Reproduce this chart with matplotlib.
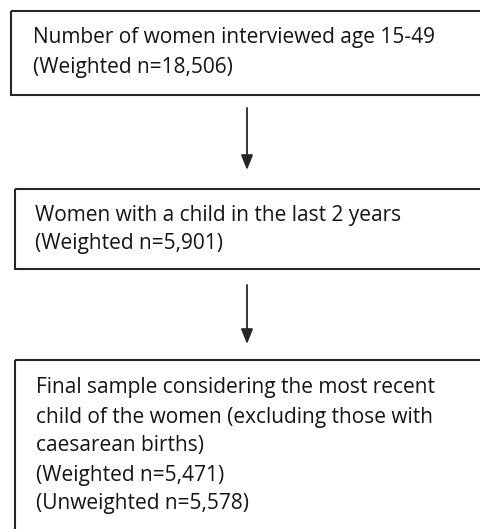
import matplotlib
matplotlib.use("Agg")
import matplotlib.pyplot as plt
from matplotlib.patches import Rectangle

# flowchart content, one list of lines per box
box_lines = [
    ["Number of women interviewed age 15-49",
     "(Weighted n=18,506)"],
    ["Women with a child in the last 2 years",
     "(Weighted n=5,901)"],
    ["Final sample considering the most recent",
     "child of the women (excluding those with",
     "caesarean births)",
     "(Weighted n=5,471)",
     "(Unweighted n=5,578)"],
]

# layout in pixel units, boxes run off the right edge
box_x0 = [11, 15, 15]
box_top = [11, 189, 360]
box_bottom = [95, 269, 545]
text_x = [33, 35, 36]
first_line_y = [38, 215, 388]
line_step = 29
arrow_x = 247
arrows = [(108, 170), (285, 344)]

W, H = 481, 529
ink = "#262626"
fam = ["Open Sans", "DejaVu Sans"]

fig = plt.figure(figsize=(W / 100, H / 100), dpi=100)
ax = fig.add_axes([0, 0, 1, 1])
ax.set_xlim(0, W)
ax.set_ylim(H, 0)
ax.axis("off")

# pick a font size so the first line is as wide as in the source (~404 px)
probe = ax.text(0, 0, box_lines[0][0], family=fam, fontsize=12)
r = fig.canvas.get_renderer()
fs = 12 * 402 / probe.get_window_extent(r).width
probe.remove()

for i, lines in enumerate(box_lines):
    ax.add_patch(Rectangle((box_x0[i], box_top[i]), 600, box_bottom[i] - box_top[i],
                           fill=False, edgecolor=ink, linewidth=1.5))
    for j, line in enumerate(lines):
        ax.text(text_x[i], first_line_y[i] + j * line_step, line,
                family=fam, fontsize=fs, color="#141414",
                ha="left", va="center")

for y0, y1 in arrows:
    ax.annotate("", xy=(arrow_x, y1), xytext=(arrow_x, y0),
                arrowprops=dict(arrowstyle="-|>,head_length=0.9,head_width=0.36",
                                color=ink, linewidth=1.3, shrinkA=0, shrinkB=0))

fig.savefig("out.png", dpi=100, facecolor="white")
